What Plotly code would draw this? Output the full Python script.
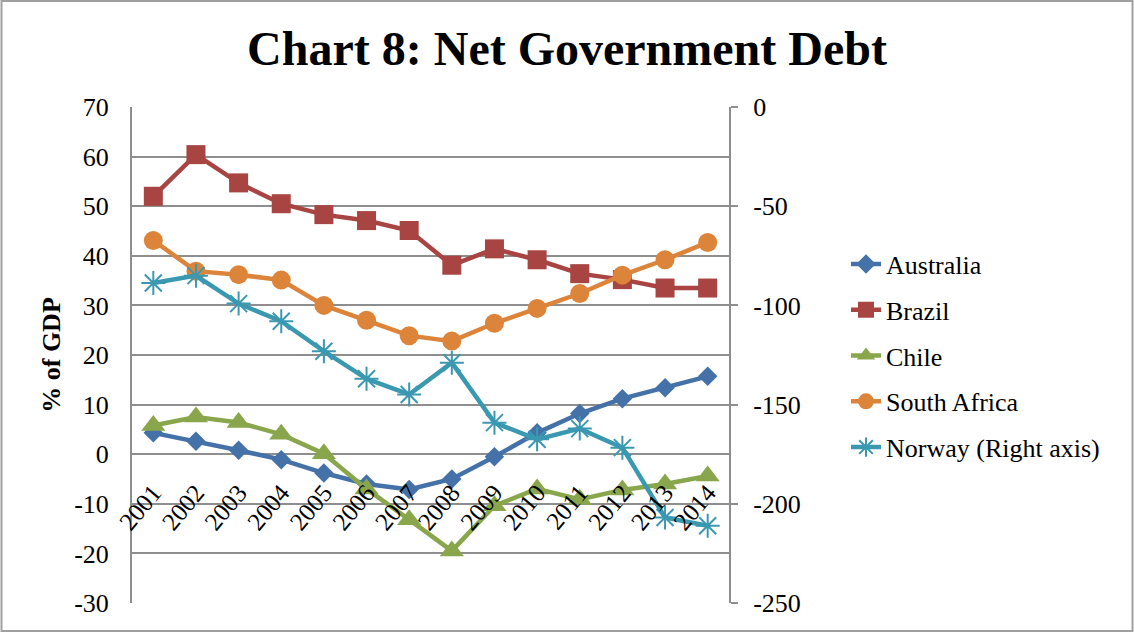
import plotly.graph_objects as go

years = ["2001", "2002", "2003", "2004", "2005", "2006", "2007",
         "2008", "2009", "2010", "2011", "2012", "2013", "2014"]

australia = [4.3, 2.6, 0.8, -1.1, -3.8, -6.0, -7.1, -5.0, -0.5, 4.3, 8.2, 11.2, 13.4, 15.7]
brazil = [52.0, 60.4, 54.7, 50.5, 48.3, 47.1, 45.1, 38.1, 41.4, 39.2, 36.4, 35.2, 33.5, 33.5]
chile = [5.8, 7.5, 6.4, 4.0, 0.1, -7.0, -13.2, -19.5, -10.4, -7.0, -9.1, -7.2, -6.0, -4.4]
south_africa = [43.1, 36.9, 36.2, 35.1, 30.0, 27.0, 23.9, 22.8, 26.4, 29.4, 32.4, 36.1, 39.2, 42.7]
norway = [-88.7, -85.0, -99.1, -108.0, -123.1, -137.0, -144.9, -128.9,
          -159.1, -167.5, -162.1, -171.7, -206.9, -211.1]

left_ticks = [-30, -20, -10, 0, 10, 20, 30, 40, 50, 60, 70]
right_ticks = [-250, -200, -150, -100, -50, 0]

FONT = "Liberation Serif, Times New Roman, serif"
GRID = "#8E8E8E"

series = [
    ("Australia", australia, "#4472A8", "diamond", 15, "y"),
    ("Brazil", brazil, "#A84442", "square", 19, "y"),
    ("Chile", chile, "#89A64C", "triangle-up", 21, "y"),
    ("South Africa", south_africa, "#DD843B", "circle", 19, "y"),
]

fig = go.Figure()
for name, vals, color, sym, size, yax in series:
    fig.add_trace(go.Scatter(
        x=years, y=vals, name=name, mode="lines+markers", yaxis=yax,
        legendgroup=name,
        line=dict(color=color, width=4.5),
        marker=dict(symbol=sym, size=size, color=color),
    ))

fig.add_trace(go.Scatter(
    x=years, y=norway, name="Norway (Right axis)", mode="lines+markers", yaxis="y2",
    legendgroup="Norway",
    line=dict(color="#3A98B0", width=4.5),
    marker=dict(symbol="asterisk-open", size=20, color="#3A98B0",
                line=dict(color="#3A98B0", width=2)),
))

L, R, T, B = 132, 405, 107, 29
W, H = 1134, 632
pw, ph = W - L - R, H - T - B

def px(x):
    return (x - L) / pw

def py(y):
    return (H - B - y) / ph

tickfont = dict(family=FONT, size=26, color="black")

fig.update_layout(
    width=W, height=H,
    margin=dict(l=L, r=R, t=T, b=B),
    paper_bgcolor="white", plot_bgcolor="white",
    font=dict(family=FONT, size=26, color="black"),
    title=dict(text="<b>Chart 8: Net Government Debt</b>", x=0.5, xanchor="center",
               y=1 - 48 / H, yanchor="middle", yref="container",
               font=dict(family=FONT, size=48, color="black")),
    xaxis=dict(type="category", range=[-0.5, 13.5], anchor="free",
               position=0.3 - 18 / ph,
               showgrid=False, showline=False, zeroline=False, ticks="",
               tickangle=-50, tickfont=dict(family=FONT, size=25, color="black")),
    yaxis=dict(range=[-30, 70], tickvals=left_ticks, ticktext=[str(v) for v in left_ticks],
               showgrid=True, gridcolor=GRID,
               gridwidth=1.5, showline=True, linecolor=GRID, linewidth=2,
               zeroline=False, ticks="", tickfont=tickfont, ticklabelstandoff=16,
               title=dict(text="<b>% of GDP</b>", standoff=6,
                          font=dict(family=FONT, size=26, color="black"))),
    yaxis2=dict(range=[-250, 0], tickvals=right_ticks, ticktext=[str(v) for v in right_ticks],
                overlaying="y", side="right",
                showgrid=False, showline=True, linecolor=GRID, linewidth=2,
                zeroline=False, ticks="outside", ticklen=7, tickcolor=GRID, tickwidth=2,
                tickfont=tickfont, ticklabelstandoff=10),
    legend=dict(x=px(846), y=py(356), xanchor="left", yanchor="middle",
                font=dict(family=FONT, size=26, color="black"),
                tracegroupgap=9, bgcolor="rgba(0,0,0,0)"),
    shapes=[dict(type="rect", xref="paper", yref="paper",
                 x0=px(1.5), x1=px(1132.5), y0=py(631), y1=py(1),
                 line=dict(color="#A0A0A0", width=2), layer="below")],
)

fig.write_html("out.html")
